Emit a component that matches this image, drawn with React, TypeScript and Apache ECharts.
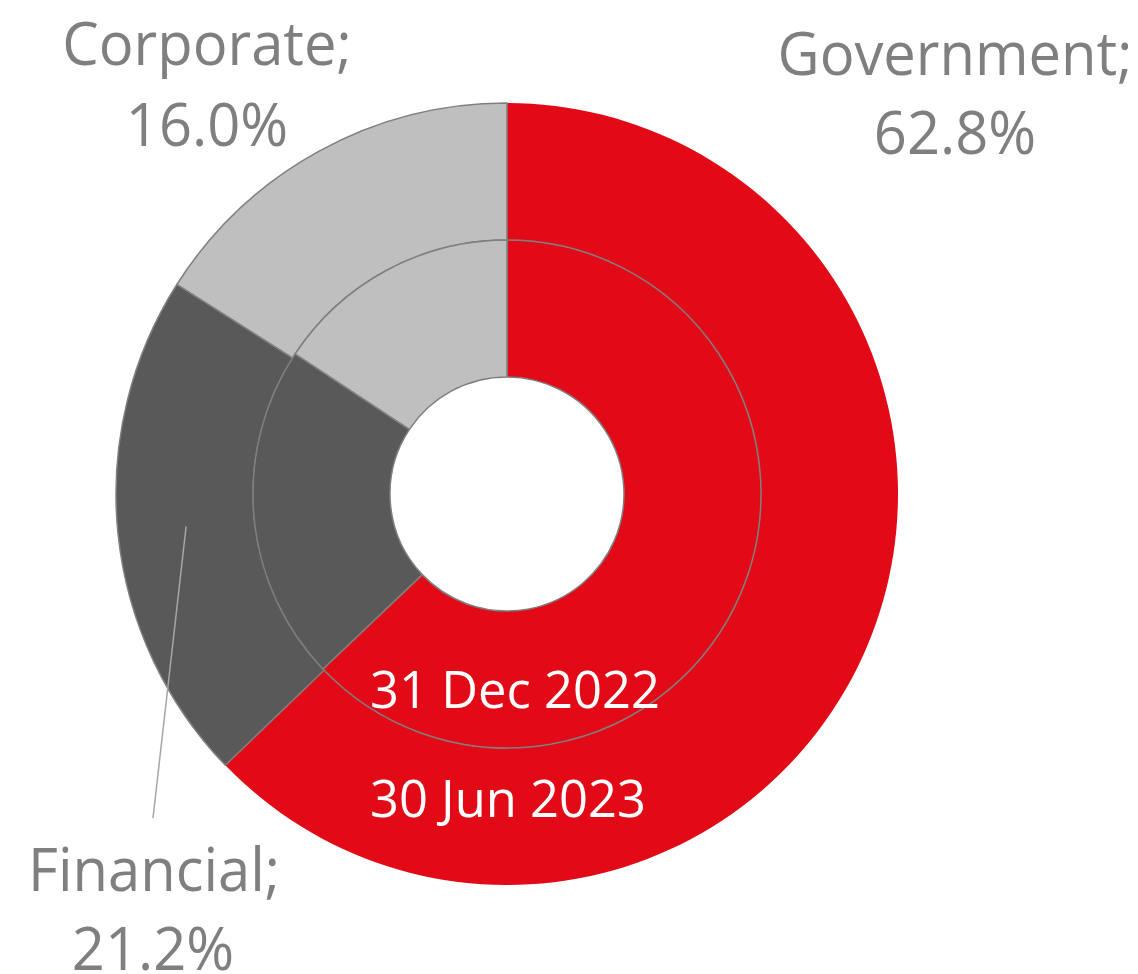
import React, { useEffect, useRef } from "react";
import * as echarts from "echarts";

const categories = ["Government", "Financial", "Corporate"];
const jun2023 = [62.8, 21.2, 16.0];
const dec2022 = [62.9, 21.4, 15.7];
const ringLabels = ["31 Dec 2022", "30 Jun 2023"];
const colors = ["#E20A17", "#595959", "#BFBFBF"];

const CX = 507;
const CY = 494;
const FONT = "'Open Sans', 'Noto Sans', sans-serif";
const LABEL_COLOR = "#7F7F7F";

export default function App() {
  const ref = useRef<HTMLDivElement>(null);
  useEffect(() => {
    document.body.style.margin = "0";
    const chart = echarts.init(ref.current!, null, { renderer: "svg" });

    const mkData = (vals: number[], outer: boolean) =>
      vals.map((v, i) => ({
        name: categories[i],
        value: v,
        itemStyle: {
          color: colors[i],
          borderColor: outer && i === 0 ? colors[0] : "#7F7F7F",
          borderWidth: outer && i === 0 ? 0 : 1.5,
        },
      }));

    // leader line for Financial from middle of outer ring
    const total = jun2023.reduce((a, b) => a + b, 0);
    const finMid = ((jun2023[0] + jun2023[1] / 2) / total) * 2 * Math.PI;
    const rMid = (254 + 391) / 2;
    const lx = CX + rMid * Math.sin(finMid);
    const ly = CY - rMid * Math.cos(finMid);

    const label = (x: number, y: number, text: string, size: number, color: string, sx: number) => ({
      type: "text",
      x,
      y,
      z: 100,
      scaleX: sx,
      silent: true,
      style: {
        x: 0,
        y: 0,
        text,
        fill: color,
        font: `${size}px ${FONT}`,
        align: "center",
        verticalAlign: "middle",
      },
    });

    const pct = (v: number) => `${v.toFixed(1)}%`;

    chart.setOption({
      animation: false,
      backgroundColor: "#FFFFFF",
      series: [
        {
          type: "pie",
          name: ringLabels[1],
          center: [CX, CY],
          radius: [254, 391],
          startAngle: 90,
          clockwise: true,
          label: { show: false },
          labelLine: { show: false },
          emphasis: { disabled: true },
          data: mkData(jun2023, true),
        },
        {
          type: "pie",
          name: ringLabels[0],
          center: [CX, CY],
          radius: [117, 254],
          startAngle: 90,
          clockwise: true,
          label: { show: false },
          labelLine: { show: false },
          emphasis: { disabled: true },
          data: mkData(dec2022, false),
        },
      ],
      graphic: [
        {
          type: "line",
          z: 100,
          silent: true,
          shape: { x1: lx, y1: ly, x2: 153, y2: 818 },
          style: { stroke: "#A6A6A6", lineWidth: 1.5 },
        },
        label(207, 42, `${categories[2]};`, 60, LABEL_COLOR, 0.965),
        label(207, 123, pct(jun2023[2]), 60, LABEL_COLOR, 0.965),
        label(955, 52, `${categories[0]};`, 60, LABEL_COLOR, 0.965),
        label(955, 131, pct(jun2023[0]), 60, LABEL_COLOR, 0.965),
        label(154, 868, `${categories[1]};`, 60, LABEL_COLOR, 0.965),
        label(153, 947, pct(jun2023[1]), 60, LABEL_COLOR, 0.965),
        label(515, 688, ringLabels[0], 52, "#FFFFFF", 0.975),
        label(508, 797, ringLabels[1], 52, "#FFFFFF", 0.975),
      ],
    });
    return () => chart.dispose();
  }, []);
  return <div ref={ref} style={{ width: 1138, height: 974 }} />;
}
